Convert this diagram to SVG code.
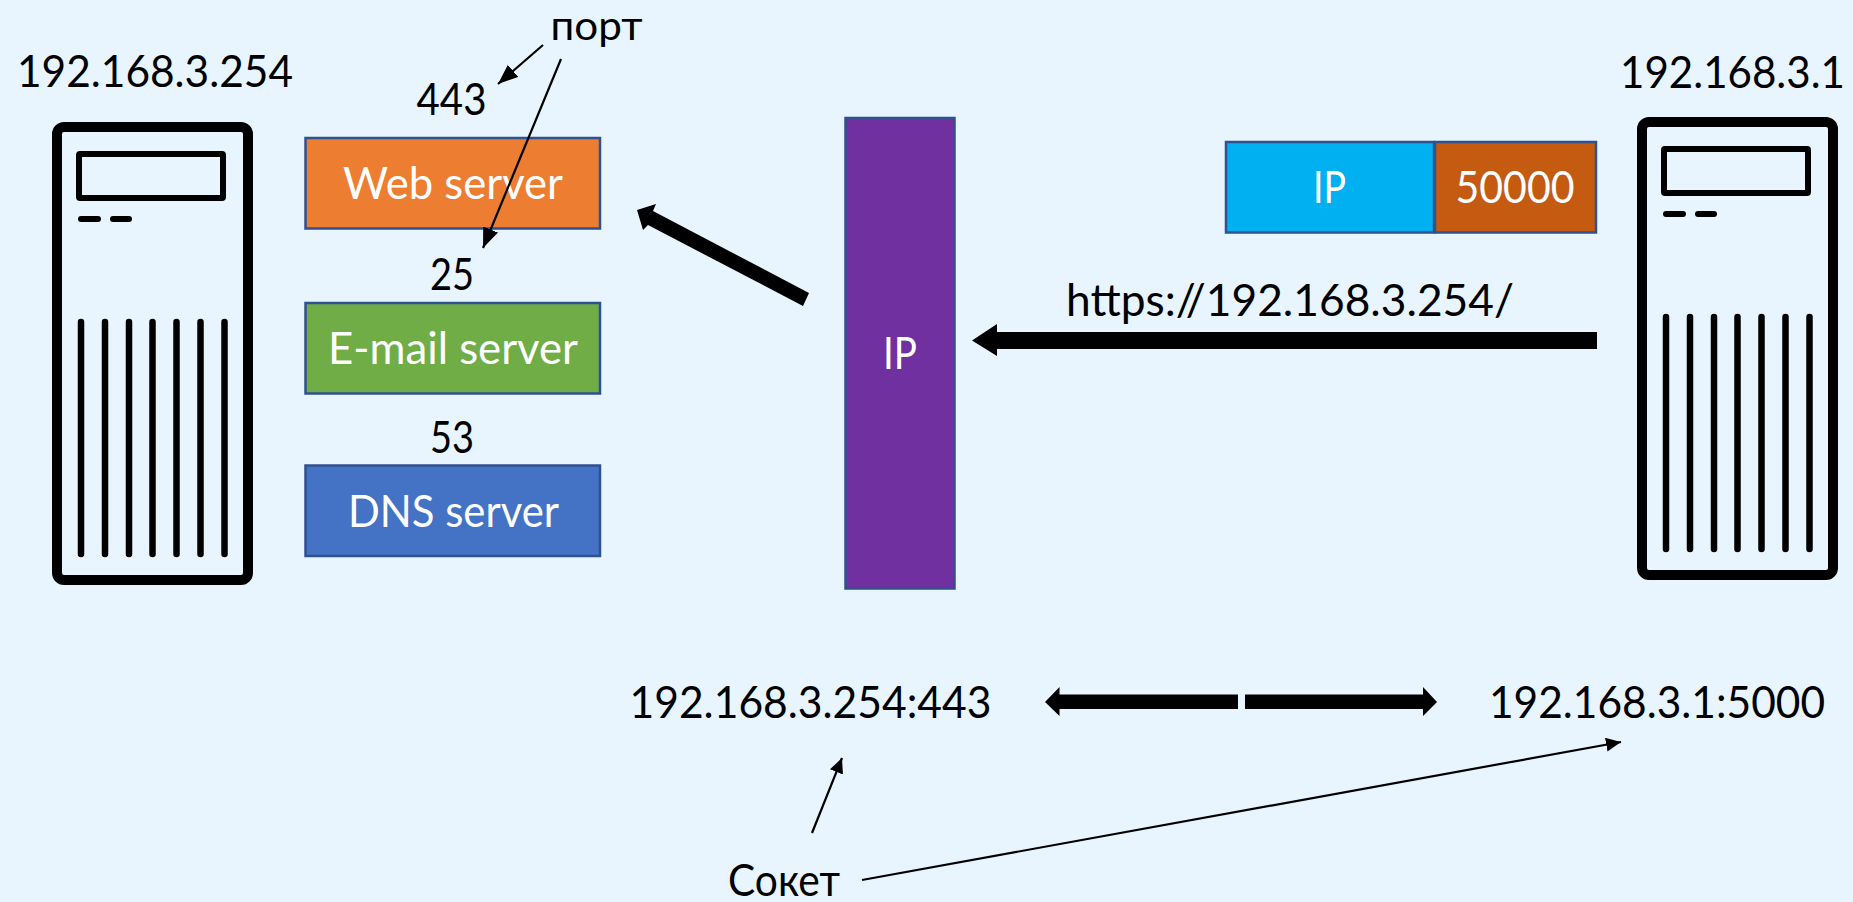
<svg xmlns="http://www.w3.org/2000/svg" width="1853" height="902" viewBox="0 0 1853 902">
<style>
text{font-family:"Lato","Noto Sans",sans-serif;font-size:44px;fill:#000;text-anchor:middle}
.w{fill:#fff}
.box{stroke:#2f528f;stroke-width:2.500}
.frame{fill:none;stroke:#000;stroke-width:10}
.scr{fill:none;stroke:#000;stroke-width:6}
.dash{stroke:#000;stroke-width:6;stroke-linecap:round;fill:none}
.vent{stroke:#000;stroke-width:6.500;stroke-linecap:round;fill:none}
.thin{stroke:#000;stroke-width:2.200;fill:none;marker-end:url(#ah)}
.thin2{stroke:#000;stroke-width:2.200;fill:none;marker-end:url(#ah2)}
</style>
<defs>
<marker id="ah" markerUnits="userSpaceOnUse" markerWidth="24" markerHeight="20" refX="20" refY="8" orient="auto"><path d="M0 0L20 8L0 16z"/></marker>
<marker id="ah2" markerUnits="userSpaceOnUse" markerWidth="24" markerHeight="20" refX="15" refY="7" orient="auto"><path d="M0 0L15 7L0 14z"/></marker>
<g id="server-icon">
<rect class="frame" x="57" y="127" width="191" height="453" rx="7"/>
<rect class="scr" x="79" y="154" width="144" height="44" rx="1"/>
<path class="dash" d="M81 219H98M113 219H129"/>
<path class="vent" d="M81 322V554M105 322V554M129 322V554M152.500 322V554M176.500 322V554M200.500 322V554M224.500 322V554"/>
</g>
</defs>
<rect id="background" width="1853" height="902" fill="#e8f5ff"/>
<g id="server-left"><use href="#server-icon"/><text x="155" y="87" textLength="276" lengthAdjust="spacingAndGlyphs">192.168.3.254</text></g>
<g id="server-right"><use href="#server-icon" transform="translate(1585 -5)"/><text x="1732.500" y="88" textLength="225" lengthAdjust="spacingAndGlyphs">192.168.3.1</text></g>
<g id="web-server"><rect class="box" x="305.500" y="138" width="294.500" height="90.500" fill="#ed7d31"/><text class="w" x="453" y="199" textLength="220" lengthAdjust="spacingAndGlyphs">Web server</text></g>
<g id="email-server"><rect class="box" x="305.500" y="303" width="294.500" height="90.500" fill="#70ad47"/><text class="w" x="453" y="364" textLength="250" lengthAdjust="spacingAndGlyphs">E-mail server</text></g>
<g id="dns-server"><rect class="box" x="305.500" y="465.500" width="294.500" height="90.500" fill="#4472c4"/><text class="w" x="453.500" y="527" textLength="211" lengthAdjust="spacingAndGlyphs">DNS server</text></g>
<g id="port-443"><text x="451.500" y="115" textLength="70" lengthAdjust="spacingAndGlyphs">443</text></g>
<g id="port-25"><text x="452" y="290" textLength="44" lengthAdjust="spacingAndGlyphs">25</text></g>
<g id="port-53"><text x="452" y="453" textLength="44" lengthAdjust="spacingAndGlyphs">53</text></g>
<g id="port-label"><text x="596.500" y="40" style="font-size:40px" textLength="92" lengthAdjust="spacingAndGlyphs">порт</text></g>
<g id="ip-column"><rect class="box" x="845.500" y="118" width="109" height="470.500" fill="#7030a0"/><text class="w" x="900" y="369" textLength="34" lengthAdjust="spacingAndGlyphs">IP</text></g>
<g id="packet-ip"><rect class="box" x="1226" y="142" width="208" height="90.500" fill="#00b0f0"/><text class="w" x="1329.500" y="203" textLength="33" lengthAdjust="spacingAndGlyphs">IP</text></g>
<g id="packet-port"><rect class="box" x="1435" y="142" width="161" height="90.500" fill="#c55a11"/><text class="w" x="1515" y="203" textLength="119" lengthAdjust="spacingAndGlyphs">50000</text></g>
<g id="url-label"><text x="1290" y="316" textLength="448" lengthAdjust="spacingAndGlyphs">https://192.168.3.254/</text></g>
<g id="socket-left"><text x="810.500" y="718" textLength="362" lengthAdjust="spacingAndGlyphs">192.168.3.254:443</text></g>
<g id="socket-right"><text x="1657" y="718" textLength="336" lengthAdjust="spacingAndGlyphs">192.168.3.1:5000</text></g>
<g id="socket-label"><text x="784" y="896" textLength="112" lengthAdjust="spacingAndGlyphs">Сокет</text></g>
<g id="connectors">
<path class="thin" d="M543 45L498 84"/>
<path class="thin" d="M561 59L483 248"/>
<path d="M1597 332H997V324L972 340.500L997 356V349H1597z"/>
<path d="M637 210L656 204L653 211L809 293L803 306L648 225L643 230z"/>
<path d="M1238 694.500H1059.500V687L1045 702L1059.500 716V709H1238z"/>
<path d="M1245 694.500H1423V687L1437 702L1423 716V709H1245z"/>
<path class="thin2" d="M812 833L842 758"/>
<path class="thin2" d="M862 880L1621 742"/>
</g>
</svg>
